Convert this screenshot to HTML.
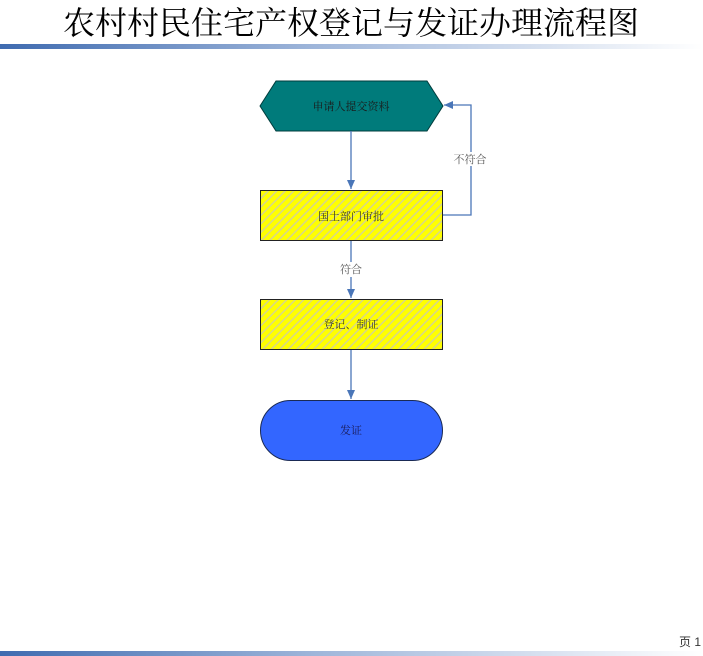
<!DOCTYPE html>
<html><head><meta charset="utf-8"><style>
html,body{margin:0;padding:0;background:#fff;width:703px;height:656px;overflow:hidden}
</style></head><body>
<svg width="703" height="656" xmlns="http://www.w3.org/2000/svg" style="display:block">
<defs>
<linearGradient id="bar" x1="0" x2="1" y1="0" y2="0">
<stop offset="0" stop-color="#3f6bb0"/><stop offset="0.45" stop-color="#9fb6da"/><stop offset="1" stop-color="#ffffff"/>
</linearGradient>
<pattern id="hatch" width="6" height="6" patternUnits="userSpaceOnUse" patternTransform="rotate(45)">
<rect width="6" height="6" fill="#ffff00"/><rect width="1.5" height="6" fill="#d6d68a"/>
</pattern>
<marker id="ar" markerWidth="10" markerHeight="10" refX="9" refY="5" orient="auto" markerUnits="userSpaceOnUse">
<path d="M0,1 L9,5 L0,9 Z" fill="#4a76b8"/>
</marker>
</defs>
<text x="351" y="34" text-anchor="middle" font-family="'Liberation Serif','Noto Serif CJK SC',serif" font-size="32" fill="#000">农村村民住宅产权登记与发证办理流程图</text>
<rect x="0" y="44" width="703" height="5" fill="url(#bar)"/>
<rect x="0" y="651" width="703" height="5" fill="url(#bar)"/>
<text x="679" y="646" font-family="'Liberation Sans','Noto Sans CJK SC',sans-serif" font-size="12" fill="#333">页 1</text>

<polygon points="260,106 276,81 427,81 443,106 427,131 276,131" fill="#007b7b" stroke="#003c3c" stroke-width="1"/>
<text x="351" y="110" text-anchor="middle" font-family="'Liberation Serif','Noto Serif CJK SC',serif" font-size="11" fill="#1a1a1a">申请人提交资料</text>

<rect x="260.5" y="190.5" width="182" height="50" fill="url(#hatch)" stroke="#222" stroke-width="1"/>
<text x="351" y="220" text-anchor="middle" font-family="'Liberation Serif','Noto Serif CJK SC',serif" font-size="11" fill="#333">国土部门审批</text>

<rect x="260.5" y="299.5" width="182" height="50" fill="url(#hatch)" stroke="#222" stroke-width="1"/>
<text x="351" y="328" text-anchor="middle" font-family="'Liberation Serif','Noto Serif CJK SC',serif" font-size="11" fill="#333">登记、制证</text>

<rect x="260.5" y="400.5" width="182" height="60" rx="30" ry="30" fill="#3366ff" stroke="#1a2a55" stroke-width="1"/>
<text x="351" y="434" text-anchor="middle" font-family="'Liberation Serif','Noto Serif CJK SC',serif" font-size="11" fill="#1a1a55">发证</text>

<g stroke="#4a76b8" stroke-width="1.3" fill="none">
<line x1="351" y1="131" x2="351" y2="189" marker-end="url(#ar)"/>
<line x1="351" y1="241" x2="351" y2="262"/>
<line x1="351" y1="277" x2="351" y2="298" marker-end="url(#ar)"/>
<line x1="351" y1="350" x2="351" y2="399" marker-end="url(#ar)"/>
<polyline points="443,215 471,215 471,105 444,105" marker-end="url(#ar)"/>
</g>
<rect x="452" y="152" width="36" height="14" fill="#fff"/>
<text x="470" y="163" text-anchor="middle" font-family="'Liberation Serif','Noto Serif CJK SC',serif" font-size="11" fill="#555">不符合</text>
<text x="351" y="273" text-anchor="middle" font-family="'Liberation Serif','Noto Serif CJK SC',serif" font-size="11" fill="#555">符合</text>
</svg>
</body></html>
